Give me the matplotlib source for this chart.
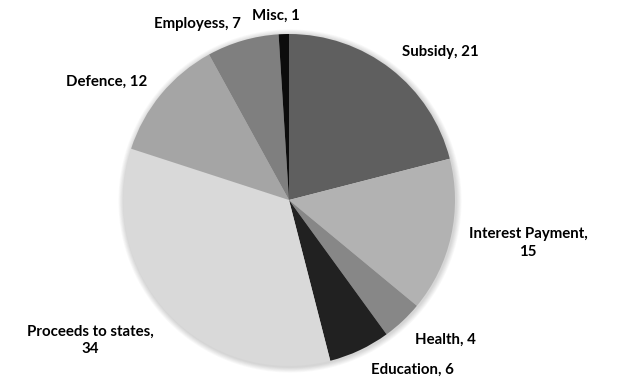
import matplotlib
matplotlib.use("Agg")
import matplotlib.pyplot as plt
from matplotlib.patches import Circle

categories = ["Subsidy", "Interest Payment", "Health", "Education",
              "Proceeds to states", "Defence", "Employess", "Misc"]
values = [21, 15, 4, 6, 34, 12, 7, 1]
colors = ["#5f5f5f", "#b2b2b2", "#878787", "#212121",
          "#d9d9d9", "#a5a5a5", "#7f7f7f", "#0c0c0c"]
label_texts = ["Subsidy, 21", "Interest Payment,\n15", "Health, 4", "Education, 6",
               "Proceeds to states,\n34", "Defence, 12", "Employess, 7", "Misc, 1"]
label_pos = [(440, 52), (528, 243), (445, 340), (412, 370),
             (90, 340), (107, 82), (197, 24), (276, 16)]

W, H = 620, 390
fig = plt.figure(figsize=(W / 100, H / 100), dpi=100)
ax = fig.add_axes([0, 0, 1, 1])
ax.set_xlim(0, W)
ax.set_ylim(0, H)
ax.set_aspect("equal")
ax.axis("off")

cx, cy, r = 289, H - 200, 166
# soft shadow
for k in range(7, 0, -1):
    ax.add_patch(Circle((cx + 1, cy - 1), r + k * 0.8, color="black",
                        alpha=0.025, lw=0, zorder=0))

ax.pie(values, colors=colors, startangle=90, counterclock=False,
       center=(cx, cy), radius=r, frame=True,
       wedgeprops=dict(linewidth=0, zorder=1))
ax.set_xlim(0, W)
ax.set_ylim(0, H)
ax.axis("off")

for txt, (x, y) in zip(label_texts, label_pos):
    ax.text(x, H - y, txt, ha="center", va="center", fontsize=10.8,
            fontweight="bold", family="Lato", color="#000000",
            linespacing=1.3)

fig.savefig("out.png", dpi=100)
